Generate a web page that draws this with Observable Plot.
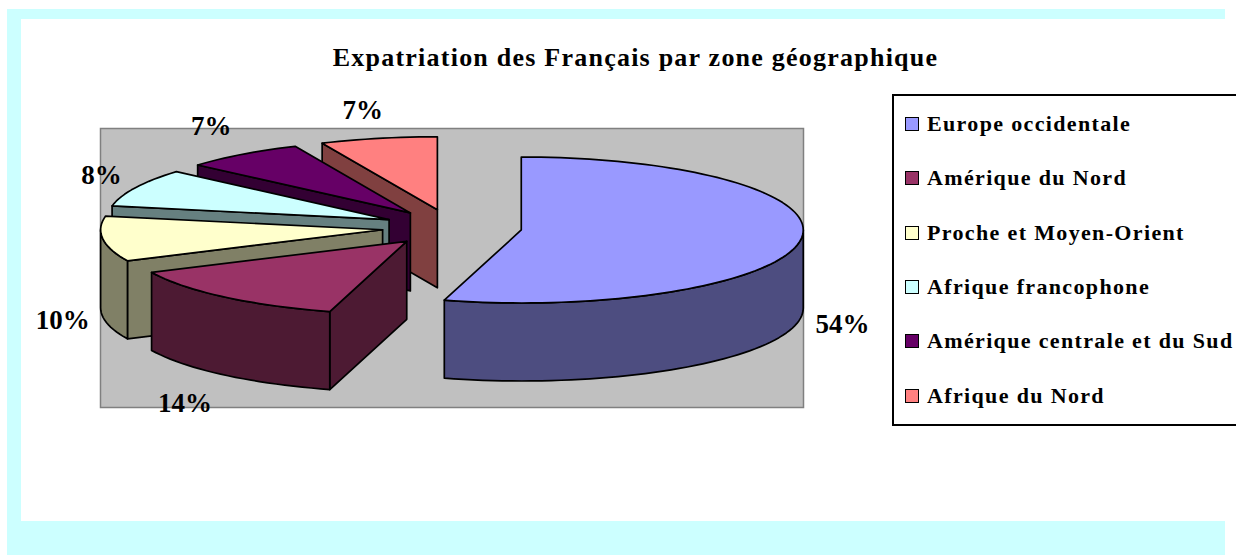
<!DOCTYPE html>
<html lang="fr">
<head>
<meta charset="utf-8">
<script src="https://cdn.jsdelivr.net/npm/d3@7"></script>
<script src="https://cdn.jsdelivr.net/npm/@observablehq/plot@0.6"></script>
<style>
  html, body { margin: 0; padding: 0; background: #fff; width: 1236px; height: 555px; overflow: hidden; }
  body { position: relative; font-family: "Liberation Serif", serif; font-weight: bold; color: #000; }
  .band { position: absolute; background: #ccffff; }
  #title { position: absolute; left: 21px; width: 1229px; top: 43px; text-align: center; font-size: 26px; letter-spacing: 1.23px; line-height: 30px; white-space: nowrap; }
  #chart { position: absolute; left: 0; top: 0; }
  #chart svg { overflow: visible; }
  #legend { position: absolute; left: 892px; top: 94px; width: 342px; height: 328px; border: 2px solid #000; background: #fff; box-sizing: content-box; }
  #legend .row { position: absolute; left: 11px; height: 28px; display: flex; align-items: center; white-space: nowrap; font-size: 22px; letter-spacing: 1.35px; }
  #legend .sw { display: inline-block; width: 12px; height: 12px; border: 1.5px solid #000; margin-right: 8px; }
</style>
</head>
<body>
<div class="band" style="left:7px;top:9px;width:1218px;height:10px"></div>
<div class="band" style="left:7px;top:9px;width:14px;height:546px"></div>
<div class="band" style="left:7px;top:521px;width:1218px;height:34px"></div>
<div id="chart"></div>
<div id="title">Expatriation des Français par zone géographique</div>
<div id="legend"></div>
<script>
const titleText = "Expatriation des Français par zone géographique";
const zones = ["Europe occidentale", "Amérique du Nord", "Proche et Moyen-Orient", "Afrique francophone", "Amérique centrale et du Sud", "Afrique du Nord"];
// Slice sizes; the labels show them rounded
const shares = [54.4, 13.6, 10, 8.4, 6.9, 6.7];
const topColors = ["#9999ff", "#993366", "#ffffcc", "#ccffff", "#660066", "#ff8080"];
const sideColors = ["#4d4d80", "#4d1a33", "#808066", "#668080", "#330033", "#804040"];
// small per-label nudges (px) around the computed label anchor
const labelNudgeX = [0, -12, 2, 4, -6, -7];
const labelNudgeY = [-1, 14, -4, 6, -5, -3];

// Projection parameters of the 3-D pie, in units of the pie radius
const explode = 0.248;
const depth = 78 / 73;
const rad = d => d * Math.PI / 180;

const total = d3.sum(shares);
const cum = [0, ...d3.cumsum(shares)];
const slices = zones.map((zone, i) => {
  const a0 = cum[i] / total * 360, a1 = cum[i + 1] / total * 360, mid = (a0 + a1) / 2;
  return {
    zone, i, a0, a1, mid,
    cx: explode * Math.sin(rad(mid)),
    cy: -explode * Math.cos(rad(mid))
  };
});
const rim = (s, a) => [s.cx + Math.sin(rad(a)), s.cy - Math.cos(rad(a))];
const arcPts = (s, a, b) => {
  const n = Math.max(1, Math.ceil((b - a) / 2));
  return d3.range(n + 1).map(k => rim(s, a + (b - a) * k / n));
};

const polys = [];
const addPoly = (id, color, pts) => {
  [...pts, pts[0]].forEach(([x, y]) => polys.push({id, color, x, y}));
};
// Painter's order: back slices first, Europe last
[5, 4, 3, 2, 1, 0].forEach(i => {
  const s = slices[i];
  const apex = [s.cx, s.cy];
  const down = ([x, y]) => [x, y + depth];
  // start radial wall (front facing when it lies on the left half)
  if (Math.sin(rad(s.a0)) < 0) {
    const p = rim(s, s.a0);
    addPoly(`${i}-wall`, sideColors[i], [apex, p, down(p), down(apex)]);
  }
  // outer curved wall: only the part turned towards the viewer
  const a = Math.max(s.a0, 90), b = Math.min(s.a1, 270);
  if (b > a) {
    const top = arcPts(s, a, b);
    addPoly(`${i}-rim`, sideColors[i], [...top, ...top.slice().reverse().map(down)]);
  }
  addPoly(`${i}-top`, topColors[i], [apex, ...arcPts(s, s.a0, s.a1)]);
});

const labels = slices.map(s => {
  const front = Math.cos(rad(s.mid)) < 0;
  const r = 1.15;
  return {
    x: s.cx + r * Math.sin(rad(s.mid)),
    y: s.cy - r * Math.cos(rad(s.mid)) + (front ? 84 / 73 : -14 / 73),
    text: Math.round(shares[s.i]) + "%",
    dx: labelNudgeX[s.i],
    dy: labelNudgeY[s.i]
  };
});

const plot = Plot.plot({
  width: 1236, height: 555,
  marginLeft: 100, marginRight: 433, marginTop: 128, marginBottom: 148,
  x: {domain: [-351.5 / 282, 351.5 / 282], axis: null},
  y: {domain: [-99 / 73, 180 / 73], axis: null, reverse: true},
  style: {background: "transparent", fontFamily: "Liberation Serif, serif"},
  marks: [
    Plot.frame({fill: "#c0c0c0", stroke: "#808080", strokeWidth: 1.5}),
    Plot.line(polys, {x: "x", y: "y", z: "id", fill: "color", stroke: "#000", strokeWidth: 1.7, strokeLinejoin: "round", curve: "linear"}),
    ...labels.map(l => Plot.text([l], {x: "x", y: "y", text: "text", dx: l.dx, dy: l.dy, fontSize: 27, fontWeight: "bold", fill: "#000", letterSpacing: "-1px"}))
  ]
});
document.getElementById("chart").appendChild(plot);

document.getElementById("title").textContent = titleText;
const legend = document.getElementById("legend");
zones.forEach((z, i) => {
  const row = document.createElement("div");
  row.className = "row";
  row.style.top = (14 + i * 54.3) + "px";
  const sw = document.createElement("span");
  sw.className = "sw";
  sw.style.background = topColors[i];
  row.appendChild(sw);
  row.appendChild(document.createTextNode(z));
  legend.appendChild(row);
});
</script>
</body>
</html>
